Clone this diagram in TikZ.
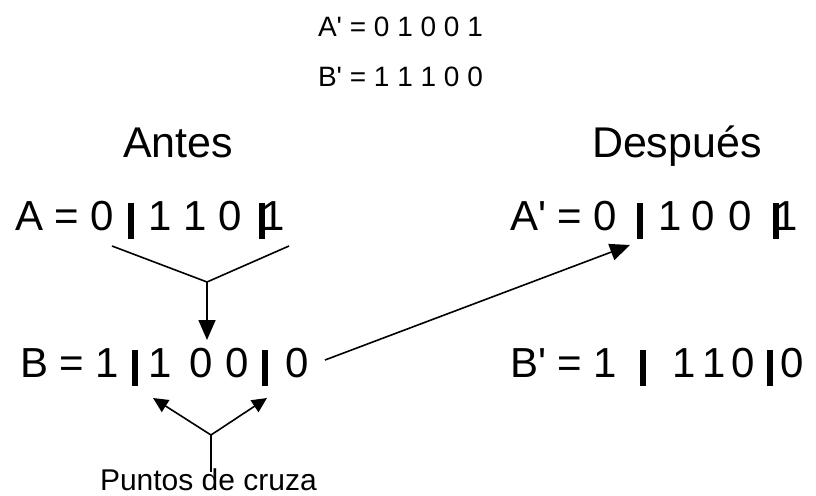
\documentclass[tikz,border=0pt]{standalone}
\usepackage{fontspec}
\setmainfont{Liberation Sans}
\usetikzlibrary{arrows.meta}

% thick vertical bar marking a crossover point inside a bit string
\newcommand\cutmark{\rule[-9pt]{6pt}{36pt}}
% straight prime for the offspring names
\newcommand\prm{\textquotesingle}

\begin{document}
\begin{tikzpicture}[x=1pt,y=-1pt,
  txt/.style={anchor=base west,inner sep=0pt,outer sep=0pt},
  row/.style={txt,font=\fontsize{42}{42}\selectfont},
  head/.style={txt,font=\fontsize{43}{43}\selectfont},
  small/.style={txt,font=\fontsize{28}{28}\selectfont},
  note/.style={txt,font=\fontsize{30}{30}\selectfont},
  link/.style={line width=1.6pt},
  bigarrow/.style={link,-{Triangle[length=20pt,width=17pt]}},
  smallarrow/.style={link,-{Triangle[length=15pt,width=14pt]}}]
\useasboundingbox (0,0) rectangle (816,495);

% offspring written without cut marks
\node[small] (topA) at (318,37) {A\prm{} = 0 1 0 0 1};
\node[small] (topB) at (318,86) {B\prm{} = 1 1 1 0 0};

% column headings
\node[head] (antes) at (123,157) {Antes};
\node[head] (despues) at (592,157) {Después};

% parents
\node[row] (rowA) at (15,230)
  {A = 0\hspace{14pt}\cutmark\hspace{14pt}1 1 0\hspace{17pt}\cutmark\hspace{-3pt}1};
\node[row] (rowB) at (20,377)
  {B = 1\hspace{13pt}\cutmark\hspace{10pt}1\hspace{18pt}0\hspace{13pt}0\hspace{13pt}\cutmark\hspace{17pt}0};

% children
\node[row] (rowA2) at (510,230)
  {A\prm{} = 0\hspace{19.75pt}\cutmark\hspace{15.4pt}1\hspace{9.45pt}0\hspace{13.65pt}0\hspace{21.45pt}\cutmark\hspace{-4.6pt}1};
\node[row] (rowB2) at (510,377)
  {B\prm{} = 1\hspace{22.7pt}\cutmark\hspace{26.4pt}1\hspace{6.7pt}1\hspace{5.3pt}0\hspace{12.6pt}\cutmark\hspace{7pt}0};

\node[note] (label) at (100,490) {Puntos de cruza};

% connector end points
\coordinate (aL) at (112,246);
\coordinate (aR) at (289,246);
\coordinate (merge) at (207,282);
\coordinate (tipB) at (207,340);
\coordinate (bOut) at (325,360);
\coordinate (aIn) at (630,245);
\coordinate (fork) at (211,435);
\coordinate (cutL) at (153,398);
\coordinate (cutR) at (267,398);
\coordinate (labTop) at (211,472);

% A's cut pieces fed into B
\draw[link] (aL) -- (merge) -- (aR);
\draw[bigarrow] (merge) -- (tipB);

% B's middle goes to A'
\draw[bigarrow] (bOut) -- (aIn);

% pointers to the crossover points
\draw[link] (labTop) -- (fork);
\draw[smallarrow] (fork) -- (cutL);
\draw[smallarrow] (fork) -- (cutR);
\end{tikzpicture}
\end{document}
